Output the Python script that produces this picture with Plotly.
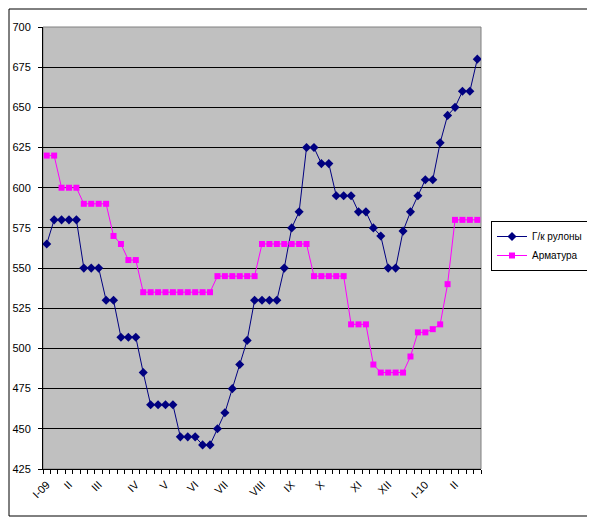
import plotly.graph_objects as go

# weekly prices, Jan 2009 - Feb 2010
hot_rolled = [565, 580, 580, 580, 580, 550, 550, 550, 530, 530,
              507, 507, 507, 485, 465, 465, 465, 465, 445, 445,
              445, 440, 440, 450, 460, 475, 490, 505, 530, 530,
              530, 530, 550, 575, 585, 625, 625, 615, 615, 595,
              595, 595, 585, 585, 575, 570, 550, 550, 573, 585,
              595, 605, 605, 628, 645, 650, 660, 660, 680]
rebar = [620, 620, 600, 600, 600, 590, 590, 590, 590, 570,
         565, 555, 555, 535, 535, 535, 535, 535, 535, 535,
         535, 535, 535, 545, 545, 545, 545, 545, 545, 565,
         565, 565, 565, 565, 565, 565, 545, 545, 545, 545,
         545, 515, 515, 515, 490, 485, 485, 485, 485, 495,
         510, 510, 512, 515, 540, 580, 580, 580, 580]

# month labels and the week they sit on
month_labels = ["I-09", "II", "III", "IV", "V", "VI", "VII", "VIII",
                "IX", "X", "XI", "XII", "I-10", "II"]
month_weeks = [0, 3, 7, 12, 16, 20, 24, 29, 33, 37, 42, 46, 51, 55]

weeks = list(range(len(hot_rolled)))

fig = go.Figure()
fig.add_trace(go.Scatter(
    x=weeks, y=hot_rolled, name="Г/к рулоны", mode="lines+markers",
    line=dict(color="#000080", width=1),
    marker=dict(symbol="diamond", size=7, color="#000080")
))
fig.add_trace(go.Scatter(
    x=weeks, y=rebar, name="Арматура", mode="lines+markers",
    line=dict(color="#FF00FF", width=1),
    marker=dict(symbol="square", size=6, color="#FF00FF")
))

# the page body has an 8px margin, so the figure sits at (8, 8)
OFF = 8
W, H = 595 - OFF, 523 - OFF
L, R, T, B = 43 - OFF, 481 - OFF, 27 - OFF, 469 - OFF
def px(x):
    return (x - OFF - L) / (R - L)
def py(y):
    return (B - (y - OFF)) / (B - T)

fig.update_layout(
    width=W, height=H,
    margin=dict(l=L, r=W - R, t=T, b=H - B, autoexpand=False),
    paper_bgcolor="white",
    plot_bgcolor="#C0C0C0",
    font=dict(family="Liberation Sans, Arial", size=11, color="black"),
    showlegend=True,
    legend=dict(
        x=px(491), y=py(221), xanchor="left", yanchor="top",
        bordercolor="black", borderwidth=1, bgcolor="white",
        font=dict(size=10), itemwidth=30, tracegroupgap=0
    ),
    xaxis=dict(
        range=[-0.5, len(weeks) - 0.5], automargin=False,
        tickmode="array", tickvals=month_weeks, ticktext=month_labels,
        tickangle=-45, ticks="", showgrid=False, zeroline=False,
        ticklabelstandoff=4,
        showline=True, linecolor="black", linewidth=1,
        minor=dict(tickmode="array",
                   tickvals=[i - 0.5 for i in range(len(weeks) + 1)],
                   ticks="outside", ticklen=4, tickcolor="black",
                   showgrid=False)
    ),
    yaxis=dict(
        range=[425, 700], dtick=25, tick0=425, automargin=False,
        showgrid=True, gridcolor="black", gridwidth=1, zeroline=False,
        ticks="outside", ticklen=4, tickcolor="black",
        ticklabelstandoff=5,
        showline=True, linecolor="black", linewidth=1
    ),
    shapes=[
        dict(type="rect", xref="paper", yref="paper", x0=0, x1=1, y0=0, y1=1,
             line=dict(color="#808080", width=1), layer="below"),
        dict(type="rect", xref="paper", yref="paper",
             x0=px(OFF + 1), x1=px(588), y0=py(516), y1=py(OFF + 1),
             line=dict(color="black", width=1))
    ]
)

fig.write_html("out.html")
